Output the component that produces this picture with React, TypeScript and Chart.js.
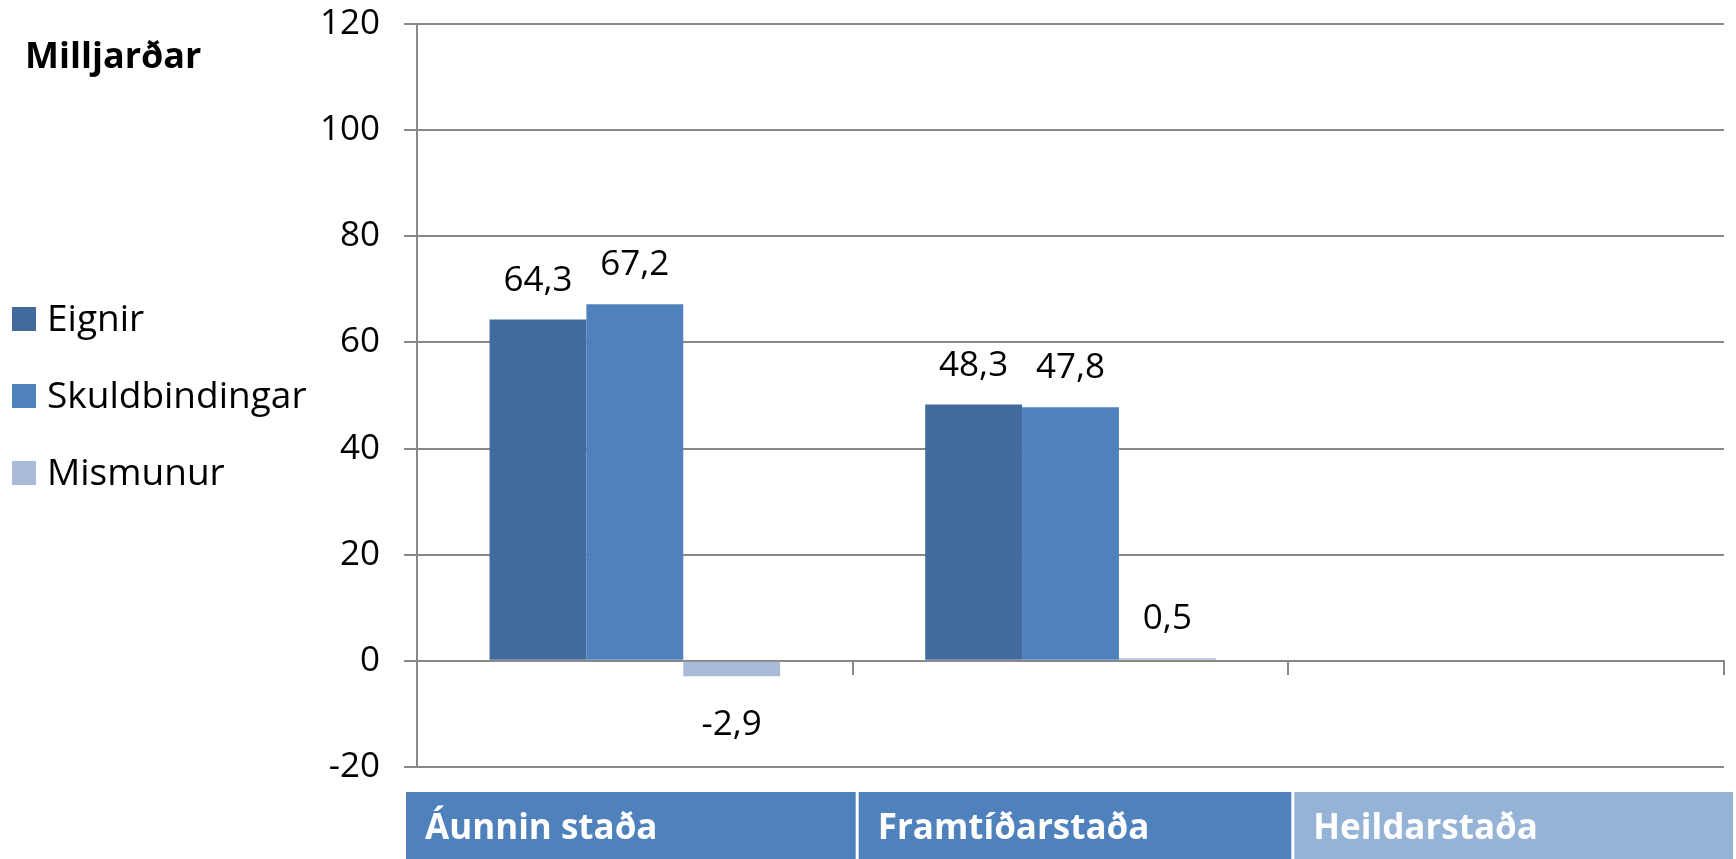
import React, { useEffect, useRef } from 'react';
import { Chart, registerables } from 'chart.js';

Chart.register(...registerables);

const categories = ['Áunnin staða', 'Framtíðarstaða', 'Heildarstaða'];
const seriesNames = ['Eignir', 'Skuldbindingar', 'Mismunur'];
const eignir = [64.3, 48.3, null];
const skuldbindingar = [67.2, 47.8, null];
const mismunur = [-2.9, 0.5, null];
const seriesColors = ['#426A9C', '#4F81BD', '#AABBD9'];
const categoryBoxColors = ['#4F81BD', '#4F81BD', '#95B3D7'];
const yMin = -20;
const yMax = 120;
const yStep = 20;
const unitLabel = 'Milljarðar';

const FONT = '"Open Sans", Lato, sans-serif';
const GRID = '#888888';

const fmt = (v: number) => v.toFixed(1).replace('.', ',');

const valueLabels = {
  id: 'valueLabels',
  afterDatasetsDraw(chart: any) {
    const ctx = chart.ctx;
    ctx.save();
    ctx.font = `35px ${FONT}`;
    ctx.fillStyle = '#000';
    ctx.textAlign = 'center';
    ctx.textBaseline = 'alphabetic';
    chart.data.datasets.forEach((ds: any, di: number) => {
      const meta = chart.getDatasetMeta(di);
      meta.data.forEach((el: any, i: number) => {
        const v = ds.data[i];
        if (v === null || v === undefined) return;
        const y = v >= 0 ? Math.min(el.y, el.base) - 29 : Math.max(el.y, el.base) + 59;
        ctx.fillText(fmt(v), el.x, y);
      });
    });
    ctx.restore();
  },
};

const decorations = {
  id: 'decorations',
  afterDraw(chart: any) {
    const ctx = chart.ctx;
    const ca = chart.chartArea;
    ctx.save();
    // unit label
    ctx.font = `bold 36px ${FONT}`;
    ctx.fillStyle = '#000';
    ctx.textAlign = 'left';
    ctx.textBaseline = 'alphabetic';
    ctx.fillText(unitLabel, 25, 68);

    // legend
    ctx.font = `37px ${FONT}`;
    chart.data.datasets.forEach((ds: any, i: number) => {
      const bottom = 331 + i * 77;
      ctx.fillStyle = ds.backgroundColor;
      ctx.fillRect(12, bottom - 24, 24, 24);
      ctx.fillStyle = '#000';
      ctx.fillText(ds.label, 47, bottom);
    });

    // category boxes
    const n = categories.length;
    const catW = (ca.right - ca.left) / n;
    const top = ca.bottom + 25;
    const h = chart.height - top;
    ctx.font = `bold 35px ${FONT}`;
    categories.forEach((c, i) => {
      const l = i === 0 ? ca.left - 11 : ca.left + catW * i + 6;
      const r = i === n - 1 ? ca.right + 9 : ca.left + catW * (i + 1) + 3;
      ctx.fillStyle = categoryBoxColors[i];
      ctx.fillRect(l, top, r - l, h);
      ctx.fillStyle = '#FFFFFF';
      ctx.fillText(c, l + 19, top + 47);
    });
    ctx.restore();
  },
};

export default function App() {
  const ref = useRef<HTMLCanvasElement | null>(null);

  useEffect(() => {
    document.body.style.margin = '0';
    const canvas = ref.current;
    if (!canvas) return;
    const chart = new Chart(canvas, {
      type: 'bar',
      data: {
        labels: categories,
        datasets: [
          { label: seriesNames[0], data: eignir, backgroundColor: seriesColors[0] },
          { label: seriesNames[1], data: skuldbindingar, backgroundColor: seriesColors[1] },
          { label: seriesNames[2], data: mismunur, backgroundColor: seriesColors[2] },
        ],
      },
      options: {
        responsive: false,
        animation: false,
        devicePixelRatio: 1,
        layout: { padding: { left: 0, right: 12, top: 24, bottom: 92 } },
        datasets: { bar: { categoryPercentage: 0.667, barPercentage: 1.0, borderWidth: 0 } },
        plugins: {
          legend: { display: false },
          tooltip: { enabled: false },
          title: { display: false },
        },
        scales: {
          x: {
            position: { y: 0 } as any,
            ticks: { display: false },
            grid: {
              offset: true,
              drawOnChartArea: false,
              drawTicks: true,
              tickLength: 13,
              color: GRID,
              lineWidth: 2,
            },
            border: { display: true, color: GRID, width: 2 },
            afterFit: (s: any) => {
              s.height = 0;
              s.paddingTop = 0;
              s.paddingBottom = 0;
            },
          },
          y: {
            min: yMin,
            max: yMax,
            ticks: {
              stepSize: yStep,
              padding: 24,
              color: '#000',
              font: { family: FONT, size: 35 },
            },
            grid: { color: GRID, lineWidth: 2, tickLength: 13 },
            border: { display: true, color: GRID, width: 2 },
            afterFit: (s: any) => {
              s.width = 417;
              s.paddingTop = 0;
              s.paddingBottom = 0;
            },
          },
        },
      },
      plugins: [valueLabels, decorations],
    });
    return () => chart.destroy();
  }, []);

  return (
    <div style={{ width: 1736, height: 859 }}>
      <canvas ref={ref} width={1736} height={859} style={{ display: 'block' }} />
    </div>
  );
}
